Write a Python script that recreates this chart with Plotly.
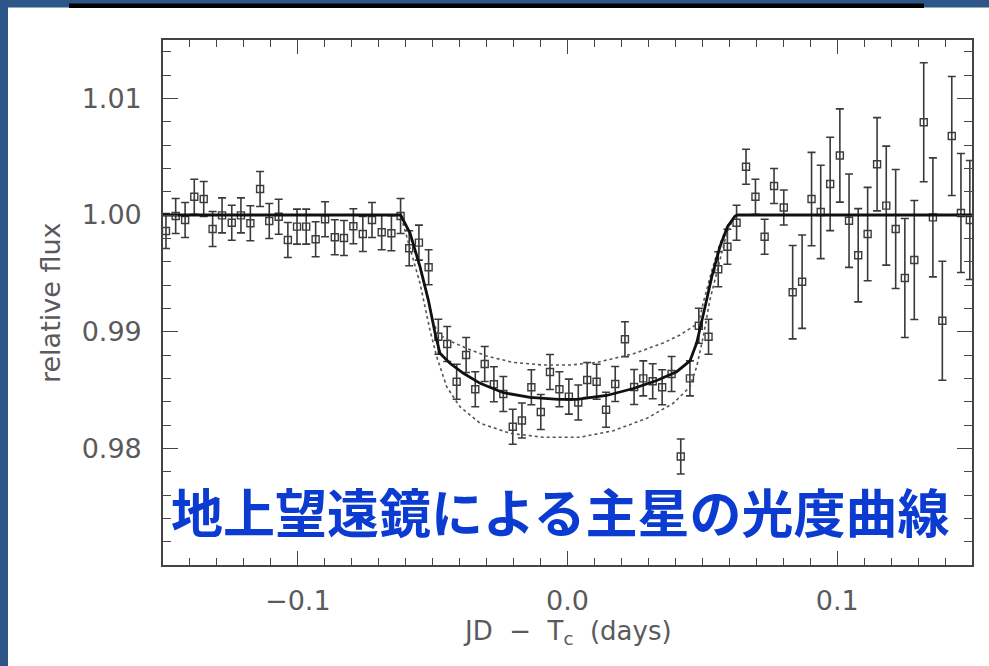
import plotly.graph_objects as go

# ---------------- data ----------------
x_days = [-0.1489, -0.1453, -0.1418, -0.1384, -0.1349, -0.1316, -0.1281, -0.1245, -0.1211, -0.1176,
          -0.1140, -0.1106, -0.1071, -0.1037, -0.1003, -0.0969, -0.0934, -0.0899, -0.0863, -0.0829,
          -0.0794, -0.0759, -0.0725, -0.0689, -0.0653, -0.0619, -0.0587, -0.0551, -0.0515, -0.0479,
          -0.0446, -0.0411, -0.0376, -0.0342, -0.0307, -0.0273, -0.0238, -0.0203, -0.0169, -0.0134,
          -0.0099, -0.0065, -0.0030, 0.0005, 0.0040, 0.0073, 0.0108, 0.0143, 0.0177, 0.0213,
          0.0247, 0.0281, 0.0316, 0.0351, 0.0386, 0.0420, 0.0454, 0.0487, 0.0523, 0.0559,
          0.0593, 0.0627, 0.0662, 0.0697, 0.0731, 0.0766, 0.0802, 0.0835, 0.0870, 0.0905,
          0.0939, 0.0974, 0.1010, 0.1044, 0.1078, 0.1113, 0.1148, 0.1182, 0.1217, 0.1251,
          0.1286, 0.1321, 0.1355, 0.1390, 0.1425, 0.1459, 0.1492]

flux = [0.99863, 0.99991, 0.99957, 1.00157, 1.00137, 0.99880, 0.99997, 0.99934, 0.99997, 0.99929,
        1.00223, 0.99949, 0.99985, 0.99786, 0.99900, 0.99900, 0.99792, 0.99963, 0.99809, 0.99803,
        0.99903, 0.99837, 0.99957, 0.99852, 0.99843, 0.99991, 0.99715, 0.99763, 0.99552, 0.98957,
        0.98894, 0.98571, 0.98800, 0.98506, 0.98723, 0.98549, 0.98466, 0.98185, 0.98239, 0.98523,
        0.98311, 0.98654, 0.98507, 0.98443, 0.98393, 0.98586, 0.98571, 0.98331, 0.98551, 0.98935,
        0.98526, 0.98600, 0.98575, 0.98523, 0.98637, 0.97930, 0.98600, 0.99051, 0.98957, 0.99535,
        0.99728, 0.99934, 1.00414, 1.00157, 0.99814, 1.00249, 1.00064, 0.99338, 0.99428, 1.00137,
        1.00026, 1.00266, 1.00510, 0.99951, 0.99655, 0.99837, 1.00435, 1.00080, 0.99880, 0.99460,
        0.99614, 1.00795, 0.99980, 0.99094, 1.00677, 1.00017, 0.99957]

flux_err = [0.0015, 0.0015, 0.0015, 0.0015, 0.0015, 0.0015, 0.0015, 0.0015, 0.0015, 0.0015,
            0.0015, 0.0015, 0.0015, 0.0015, 0.0015, 0.0015, 0.0015, 0.0015, 0.0015, 0.0015,
            0.0015, 0.0015, 0.0015, 0.0015, 0.0015, 0.0015, 0.0015, 0.0015, 0.0015, 0.0015,
            0.0015, 0.0015, 0.0015, 0.0015, 0.0015, 0.0015, 0.0015, 0.0015, 0.0015, 0.0015,
            0.0015, 0.0015, 0.0015, 0.0015, 0.0015, 0.0015, 0.0015, 0.0015, 0.0015, 0.0015,
            0.0015, 0.0015, 0.0015, 0.0015, 0.0015, 0.0015, 0.0015, 0.0015, 0.0015, 0.0015,
            0.0015, 0.0015, 0.0015, 0.0015, 0.0015, 0.0015, 0.0015, 0.0040, 0.0040, 0.0040,
            0.0040, 0.0040, 0.0040, 0.0040, 0.0040, 0.0040, 0.0040, 0.0051, 0.0051, 0.0051,
            0.0051, 0.0051, 0.0051, 0.0051, 0.0051, 0.0051, 0.0051]

model_x = [-0.1500, -0.0619, -0.0584, -0.0547, -0.0516, -0.0491, -0.0473, -0.0436, -0.0386, -0.0324,
           -0.0238, -0.0139, -0.0033, 0.0034, 0.0145, 0.0244, 0.0331, 0.0405, 0.0454, 0.0479,
           0.0510, 0.0535, 0.0565, 0.0593, 0.0621, 0.0632, 0.1500]
model_f = [1.0, 1.0, 0.99846, 0.99557, 0.99271, 0.98986, 0.98815, 0.98729, 0.98643, 0.98557,
           0.98477, 0.98437, 0.98420, 0.98419, 0.98453, 0.98513, 0.98581, 0.98657, 0.98749, 0.98903,
           0.99211, 0.99469, 0.99726, 0.99897, 0.99991, 1.0, 1.0]

upper_x = [-0.1500, -0.0619, -0.0584, -0.0547, -0.0517, -0.0495, -0.0473, -0.0436, -0.0374, -0.0300,
           -0.0201, -0.0090, 0.0009, 0.0108, 0.0244, 0.0355, 0.0417, 0.0454, 0.0486, 0.0506,
           0.0536, 0.0565, 0.0595, 0.0625, 0.1500]
upper_f = [1.0, 1.0, 0.99820, 0.99546, 0.99271, 0.99057, 0.98971, 0.98920, 0.98857, 0.98791,
           0.98736, 0.98714, 0.98714, 0.98736, 0.98810, 0.98903, 0.98971, 0.99027, 0.99074, 0.99271,
           0.99529, 0.99751, 0.99914, 1.0, 1.0]

lower_x = [-0.1500, -0.0619, -0.0547, -0.0510, -0.0485, -0.0448, -0.0399, -0.0324, -0.0213, -0.0090,
           0.0046, 0.0170, 0.0294, 0.0392, 0.0454, 0.0479, 0.0504, 0.0528, 0.0559, 0.0584,
           0.0609, 0.0628, 0.1500]
lower_f = [1.0, 1.0, 0.99415, 0.99014, 0.98785, 0.98528, 0.98357, 0.98215, 0.98129, 0.98095,
           0.98095, 0.98151, 0.98257, 0.98386, 0.98526, 0.98700, 0.98963, 0.99271, 0.99557, 0.99786,
           0.99943, 1.0, 1.0]

x_tickvals = [-0.1, 0.0, 0.1]
x_ticktext = ["\u22120.1", "0.0", "0.1"]
y_tickvals = [0.98, 0.99, 1.00, 1.01]
y_ticktext = ["0.98", "0.99", "1.00", "1.01"]

title_text = "地上望遠鏡による主星の光度曲線"
x_title = "JD\u00a0\u00a0\u2212\u00a0\u00a0T<sub>c</sub>\u00a0\u00a0(days)"
y_title = "relative flux"

assert len(x_days) == len(flux) == len(flux_err)

# ---------------- layout geometry (pixels) ----------------
W, H = 989, 666
L, R, T, B = 163, 972, 40, 565


def px(xp):
    return (xp - L) / (R - L)


def py(yp):
    return (B - yp) / (B - T)


AX = "#444444"
TXT = "#5a5a5a"

fig = go.Figure()

fig.add_trace(go.Scatter(
    x=x_days, y=flux, mode="markers",
    marker=dict(symbol="square-open", size=7, color="#3c3c3c", line=dict(width=1.4, color="#3c3c3c")),
    error_y=dict(type="data", array=flux_err, visible=True, color="#3a3a3a", thickness=1.6, width=4),
    showlegend=False, hoverinfo="skip"))

fig.add_trace(go.Scatter(x=upper_x, y=upper_f, mode="lines",
                         line=dict(color="#555555", width=1.6, dash="dot"), showlegend=False))
fig.add_trace(go.Scatter(x=lower_x, y=lower_f, mode="lines",
                         line=dict(color="#555555", width=1.6, dash="dot"), showlegend=False))
fig.add_trace(go.Scatter(x=model_x, y=model_f, mode="lines",
                         line=dict(color="#111111", width=2.8), showlegend=False))

fig.update_layout(
    width=W, height=H,
    margin=dict(l=L, r=W - R, t=T, b=H - B, autoexpand=False),
    paper_bgcolor="white", plot_bgcolor="white",
    font=dict(family="DejaVu Sans", color=TXT),
    xaxis=dict(range=[-0.15, 0.15], tickvals=x_tickvals, ticktext=x_ticktext,
               ticks="inside", ticklen=14, tickwidth=1.3, tickcolor=AX,
               minor=dict(ticks="inside", dtick=0.01, ticklen=7, tickwidth=1.1, tickcolor=AX),
               showline=True, linecolor=AX, linewidth=1.6, mirror="allticks",
               showgrid=False, zeroline=False, ticklabelstandoff=11,
               tickfont=dict(size=27, color=TXT, family="DejaVu Sans")),
    yaxis=dict(range=[0.970, 1.015], tickvals=y_tickvals, ticktext=y_ticktext,
               ticks="inside", ticklen=15, tickwidth=1.3, tickcolor=AX,
               minor=dict(ticks="inside", dtick=0.002, ticklen=8, tickwidth=1.1, tickcolor=AX),
               showline=True, linecolor=AX, linewidth=1.6, mirror="allticks",
               showgrid=False, zeroline=False, ticklabelstandoff=14,
               tickfont=dict(size=27, color=TXT, family="DejaVu Sans")),
)

# decorative slide frame (dark blue band on top and left, black bar at top)
BLUE = "#2d5587"
shapes = [
    dict(type="rect", xref="paper", yref="paper", x0=px(0), x1=px(W), y0=py(7.5), y1=py(0),
         fillcolor=BLUE, line=dict(width=0), layer="above"),
    dict(type="rect", xref="paper", yref="paper", x0=px(0), x1=px(8), y0=py(H), y1=py(0),
         fillcolor=BLUE, line=dict(width=0), layer="above"),
    dict(type="rect", xref="paper", yref="paper", x0=px(69), x1=px(924), y0=py(8), y1=py(3.5),
         fillcolor="black", line=dict(width=0), layer="above"),
]
fig.update_layout(shapes=shapes)

fig.add_annotation(text=x_title, xref="paper", yref="paper", x=px(567), y=py(632),
                   showarrow=False, xanchor="center", yanchor="middle",
                   font=dict(size=26, color=TXT, family="DejaVu Sans"))
fig.add_annotation(text=y_title, xref="paper", yref="paper", x=px(50), y=py(303),
                   showarrow=False, xanchor="center", yanchor="middle", textangle=-90,
                   font=dict(size=27, color=TXT, family="DejaVu Sans"))
fig.add_annotation(text="<b>" + title_text + "</b>", xref="paper", yref="paper",
                   x=px(560), y=py(510), showarrow=False, xanchor="center", yanchor="middle",
                   font=dict(size=52, color="#0b3bd0", family="Noto Sans CJK JP"))

fig.write_html("out.html")
